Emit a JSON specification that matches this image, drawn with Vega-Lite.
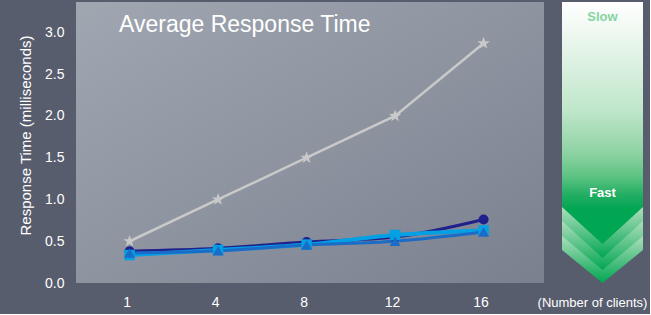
{
  "$schema": "https://vega.github.io/schema/vega-lite/v6.json",
  "background": "#585d6e",
  "padding": {"left": 18, "top": 2, "right": 3, "bottom": 5},
  "spacing": 18,
  "bounds": "flush",
  "config": {"view": {"stroke": null}, "font": "Liberation Sans"},
  "hconcat": [
    {
      "width": 468,
      "height": 281,
      "view": {
        "stroke": null,
        "fill": {"gradient": "linear", "x1": 0, "y1": 0, "x2": 1, "y2": 1,
          "stops": [{"offset": 0, "color": "#a1a7b1"}, {"offset": 1, "color": "#7a808e"}]}
      },
      "title": {"text": "Average Response Time", "anchor": "start", "frame": "group", "offset": -53, "dx": 43, "baseline": "alphabetic", "fontSize": 23, "fontWeight": "normal", "color": "#ffffff", "font": "Liberation Sans"},
      "data": {"values": [
        {"series": "A", "clients": 1, "ms": 0.5},
        {"series": "A", "clients": 4, "ms": 1.0},
        {"series": "A", "clients": 8, "ms": 1.5},
        {"series": "A", "clients": 12, "ms": 2.0},
        {"series": "A", "clients": 16, "ms": 2.87},
        {"series": "B", "clients": 1, "ms": 0.38},
        {"series": "B", "clients": 4, "ms": 0.415},
        {"series": "B", "clients": 8, "ms": 0.49},
        {"series": "B", "clients": 12, "ms": 0.55},
        {"series": "B", "clients": 16, "ms": 0.76},
        {"series": "C", "clients": 1, "ms": 0.335},
        {"series": "C", "clients": 4, "ms": 0.395},
        {"series": "C", "clients": 8, "ms": 0.46},
        {"series": "C", "clients": 12, "ms": 0.575},
        {"series": "C", "clients": 16, "ms": 0.63},
        {"series": "D", "clients": 1, "ms": 0.36},
        {"series": "D", "clients": 4, "ms": 0.385},
        {"series": "D", "clients": 8, "ms": 0.455},
        {"series": "D", "clients": 12, "ms": 0.5},
        {"series": "D", "clients": 16, "ms": 0.61}
      ]},
      "encoding": {
        "x": {"field": "clients", "type": "ordinal",
          "scale": {"type": "point", "padding": 0.644, "align": 0.47},
          "axis": {"title": "(Number of clients)", "titleX": 516, "titleY": 23, "titleAlign": "center", "titleBaseline": "alphabetic", "titleFontSize": 13, "titleFontWeight": "normal", "titleColor": "#ffffff", "labelAngle": 0, "labelFontSize": 14, "labelColor": "#ffffff", "labelPadding": 12, "labelOffset": -3, "ticks": false, "domain": false, "grid": false}},
        "y": {"field": "ms", "type": "quantitative",
          "scale": {"domain": [0, 3.365], "nice": false},
          "axis": {"title": "Response Time (milliseconds)", "values": [0, 0.5, 1, 1.5, 2, 2.5, 3], "format": ".1f", "titleFontSize": 15, "titleFontWeight": "normal", "titleColor": "#ffffff", "titlePadding": 11, "titleY": 133, "labelFontSize": 14, "labelColor": "#ffffff", "labelPadding": 12, "ticks": false, "domain": false, "grid": false}}
      },
      "layer": [
        {"transform": [{"filter": "datum.series === 'A'"}], "mark": {"type": "line", "color": "#c9c9c9", "strokeWidth": 2.5}, "encoding": {}},
        {"transform": [{"filter": "datum.series === 'B'"}], "mark": {"type": "line", "color": "#20208c", "strokeWidth": 3, "interpolate": "monotone"}, "encoding": {}},
        {"transform": [{"filter": "datum.series === 'C'"}], "mark": {"type": "line", "color": "#04a0e4", "strokeWidth": 4, "interpolate": "monotone"}, "encoding": {}},
        {"transform": [{"filter": "datum.series === 'D'"}], "mark": {"type": "line", "color": "#1a6cc6", "strokeWidth": 3, "interpolate": "monotone"}, "encoding": {}},
        {"transform": [{"filter": "datum.series === 'A'"}], "mark": {"type": "point", "shape": "M0,-1L0.235,-0.324L0.951,-0.309L0.38,0.124L0.588,0.809L0,0.4L-0.588,0.809L-0.38,0.124L-0.951,-0.309L-0.235,-0.324Z", "filled": true, "color": "#c9c9c9", "size": 170, "opacity": 1}, "encoding": {}},
        {"transform": [{"filter": "datum.series === 'B'"}], "mark": {"type": "point", "shape": "circle", "filled": true, "color": "#20208c", "size": 100, "opacity": 1}, "encoding": {}},
        {"transform": [{"filter": "datum.series === 'C'"}], "mark": {"type": "point", "shape": "square", "filled": true, "color": "#04a0e4", "size": 110, "opacity": 1}, "encoding": {}},
        {"transform": [{"filter": "datum.series === 'D'"}], "mark": {"type": "point", "shape": "triangle-up", "filled": true, "color": "#1a6cc6", "size": 120, "opacity": 1}, "encoding": {}}
      ]
    },
    {
      "width": 81,
      "height": 281,
      "view": {"stroke": null},
      "data": {"values": [
        {"shape": "p4", "ax": 0, "top": 0, "bot": 248},
        {"shape": "p4", "ax": 40.5, "top": 0, "bot": 281},
        {"shape": "p4", "ax": 81, "top": 0, "bot": 248},
        {"shape": "p3", "ax": 0, "top": 0, "bot": 234},
        {"shape": "p3", "ax": 40.5, "top": 0, "bot": 268},
        {"shape": "p3", "ax": 81, "top": 0, "bot": 234},
        {"shape": "p2", "ax": 0, "top": 0, "bot": 219},
        {"shape": "p2", "ax": 40.5, "top": 0, "bot": 256},
        {"shape": "p2", "ax": 81, "top": 0, "bot": 219},
        {"shape": "p1", "ax": 0, "top": 0, "bot": 205},
        {"shape": "p1", "ax": 40.5, "top": 0, "bot": 242},
        {"shape": "p1", "ax": 81, "top": 0, "bot": 205},
        {"shape": "slow", "ax": 40.5, "top": 14.7, "label": "Slow"},
        {"shape": "fast", "ax": 40.5, "top": 191, "label": "Fast"}
      ]},
      "encoding": {
        "x": {"field": "ax", "type": "quantitative", "scale": {"domain": [0, 81], "nice": false, "zero": false}, "axis": null},
        "y": {"field": "top", "type": "quantitative", "scale": {"domain": [0, 281], "reverse": true, "nice": false, "zero": false}, "axis": null}
      },
      "layer": [
        {"transform": [{"filter": "datum.shape === 'p4'"}],
         "mark": {"type": "area", "orient": "vertical", "fill": {"gradient": "linear", "x1": 0, "y1": 0, "x2": 0, "y2": 1,
           "stops": [{"offset": 0, "color": "#b8e2c4"}, {"offset": 0.83, "color": "#b0dfbd"}, {"offset": 1, "color": "#00a651"}]}},
         "encoding": {"y2": {"field": "bot"}}},
        {"transform": [{"filter": "datum.shape === 'p3'"}],
         "mark": {"type": "area", "orient": "vertical", "fill": {"gradient": "linear", "x1": 0, "y1": 0, "x2": 0, "y2": 1,
           "stops": [{"offset": 0, "color": "#b8e2c4"}, {"offset": 0.815, "color": "#b0dfbd"}, {"offset": 1, "color": "#00a651"}]}},
         "encoding": {"y2": {"field": "bot"}}},
        {"transform": [{"filter": "datum.shape === 'p2'"}],
         "mark": {"type": "area", "orient": "vertical", "fill": {"gradient": "linear", "x1": 0, "y1": 0, "x2": 0, "y2": 1,
           "stops": [{"offset": 0, "color": "#b8e2c4"}, {"offset": 0.8, "color": "#b0dfbd"}, {"offset": 1, "color": "#00a651"}]}},
         "encoding": {"y2": {"field": "bot"}}},
        {"transform": [{"filter": "datum.shape === 'p1'"}],
         "mark": {"type": "area", "orient": "vertical", "fill": {"gradient": "linear", "x1": 0, "y1": 0, "x2": 0, "y2": 1,
           "stops": [{"offset": 0, "color": "#ffffff"}, {"offset": 0.2, "color": "#e4f4e8"}, {"offset": 0.45, "color": "#bfe6ca"}, {"offset": 0.62, "color": "#8fd3a3"}, {"offset": 0.72, "color": "#5ec383"}, {"offset": 0.8, "color": "#20ad62"}, {"offset": 0.86, "color": "#00a651"}, {"offset": 1, "color": "#00a651"}]}},
         "encoding": {"y2": {"field": "bot"}}},
        {"transform": [{"filter": "datum.shape === 'slow'"}],
         "mark": {"type": "text", "fontSize": 13, "fontWeight": "bold", "color": "#86d4a2", "baseline": "middle", "align": "center", "font": "Liberation Sans"},
         "encoding": {"text": {"field": "label"}}},
        {"transform": [{"filter": "datum.shape === 'fast'"}],
         "mark": {"type": "text", "fontSize": 13, "fontWeight": "bold", "color": "#ffffff", "baseline": "middle", "align": "center", "font": "Liberation Sans"},
         "encoding": {"text": {"field": "label"}}}
      ]
    }
  ]
}
